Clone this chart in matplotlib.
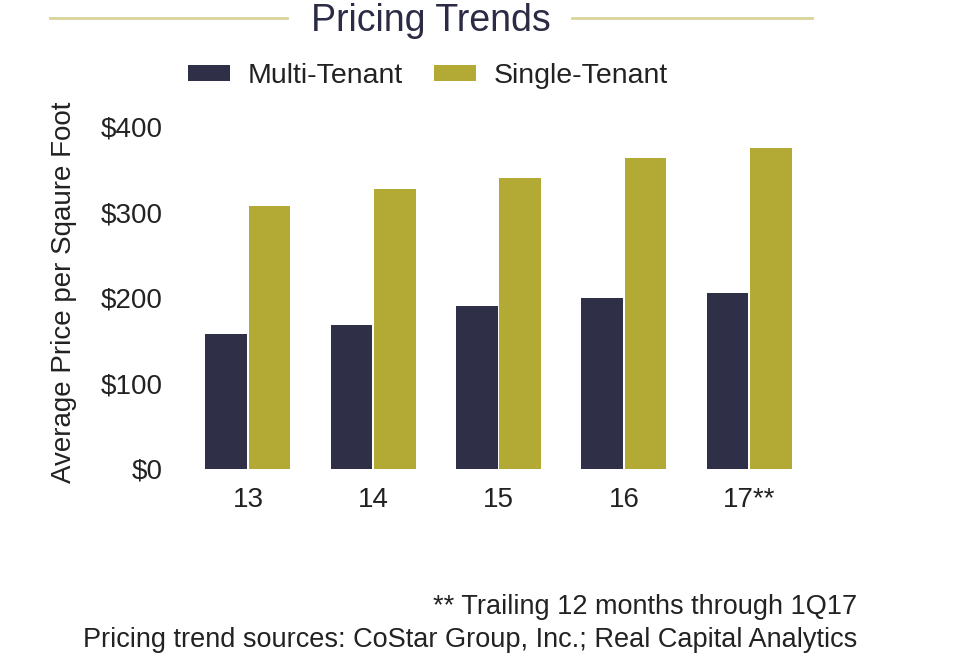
import numpy as np
import matplotlib.pyplot as plt
from matplotlib.lines import Line2D

plt.rcParams['font.family'] = ['Liberation Sans', 'DejaVu Sans']

years = ['13', '14', '15', '16', '17**']
multi_tenant = [158, 168, 190, 200, 206]
single_tenant = [308, 327, 340, 364, 375]
yticks = [0, 100, 200, 300, 400]
ytick_labels = ['$0', '$100', '$200', '$300', '$400']

navy = '#2f2f48'
olive = '#b3a935'
text_col = '#222222'

fig = plt.figure(figsize=(9.6, 6.54), dpi=100)
ax = fig.add_axes([0.193, 0.283, 0.6526, 0.523])

x = np.arange(len(years))
w = 0.332
ax.bar(x - 0.1735, multi_tenant, w, color=navy, label='Multi-Tenant')
ax.bar(x + 0.1735, single_tenant, w, color=olive, label='Single-Tenant')

ax.set_xlim(-0.5, 4.5)
ax.set_ylim(0, 400)
ax.set_xticks(x)
ax.set_xticklabels(years)
ax.set_yticks(yticks)
ax.set_yticklabels(ytick_labels)
ax.tick_params(axis='both', length=0, labelsize=20, colors=text_col)
ax.tick_params(axis='y', pad=16)
ax.tick_params(axis='x', pad=13)
for s in ax.spines.values():
    s.set_visible(False)

ax.set_ylabel('Average Price per Sqaure Foot', fontsize=20, color=text_col)
ax.yaxis.set_label_coords(-0.173, 0.516)

fig.legend(loc='center', bbox_to_anchor=(0.446, 0.884), ncol=2, frameon=False,
           fontsize=20.5, handlelength=1.47, handleheight=0.5, columnspacing=1.1,
           handletextpad=0.63, labelcolor=text_col)

# title with rules on either side
fig.text(0.449, 0.968, 'Pricing Trends', fontsize=27, color='#2b2b45',
         ha='center', va='center')
line_col = '#d8d49c'
fig.add_artist(Line2D([50/960, 287/960], [0.973, 0.973], color=line_col, lw=2,
                      transform=fig.transFigure))
fig.add_artist(Line2D([572/960, 812/960], [0.973, 0.973], color=line_col, lw=2,
                      transform=fig.transFigure))

fig.text(0.893, 0.072, '** Trailing 12 months through 1Q17', fontsize=19.5,
         color=text_col, ha='right', va='center')
fig.text(0.893, 0.021, 'Pricing trend sources: CoStar Group, Inc.; Real Capital Analytics',
         fontsize=19.5, color=text_col, ha='right', va='center')

fig.savefig('out.png', dpi=100)
